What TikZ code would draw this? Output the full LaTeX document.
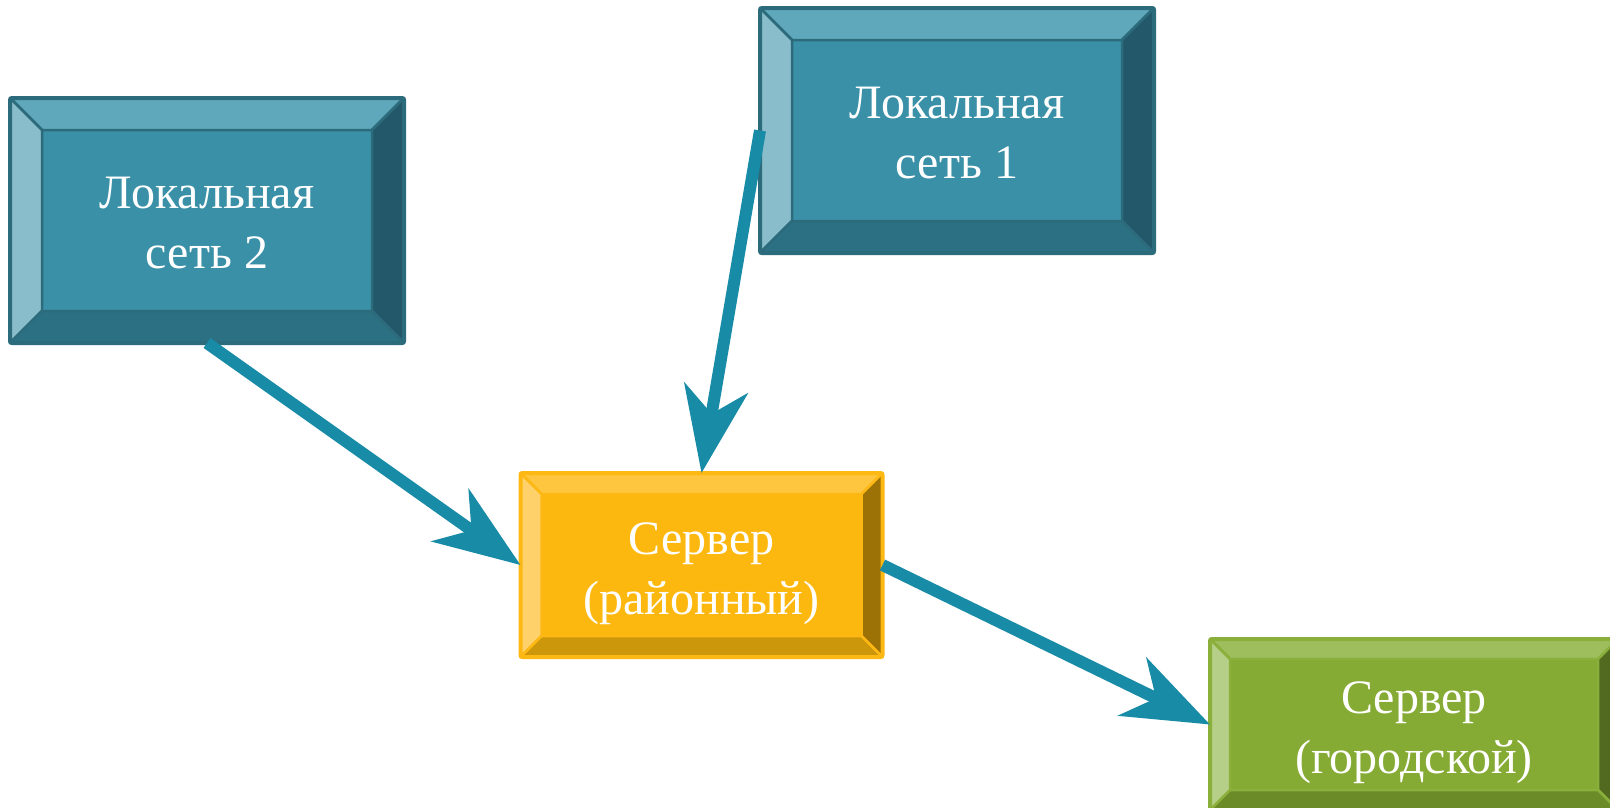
\documentclass[tikz,border=0pt]{standalone}
\usepackage{fontspec}
\setmainfont{Liberation Serif}
\usetikzlibrary{arrows.meta}
\definecolor{tface}{HTML}{3A90A7}
\definecolor{ttop}{HTML}{5FA8BB}
\definecolor{tleft}{HTML}{8ABDCB}
\definecolor{tright}{HTML}{22586A}
\definecolor{tbot}{HTML}{2C7183}
\definecolor{tedge}{HTML}{2C6B7B}
\definecolor{yface}{HTML}{FDB80F}
\definecolor{ytop}{HTML}{FEC63E}
\definecolor{yleft}{HTML}{FED16B}
\definecolor{yright}{HTML}{9C7206}
\definecolor{ybot}{HTML}{CC970A}
\definecolor{yedge}{HTML}{FDB813}
\definecolor{gface}{HTML}{86AB34}
\definecolor{gtop}{HTML}{9EBD5D}
\definecolor{gleft}{HTML}{B6CF88}
\definecolor{gright}{HTML}{526A1F}
\definecolor{gbot}{HTML}{6B8A28}
\definecolor{gedge}{HTML}{8BAF3B}
\definecolor{arrowc}{HTML}{188BA6}
\newcommand\bevelfacets[7]{%
  \path[draw=#7, line width=2.5pt, line join=round, fill=#3] (#1.north west) -- (#1.north east) -- ([shift={(-#2,#2)}]#1.north east) -- ([shift={(#2,#2)}]#1.north west) -- cycle;
  \path[draw=#7, line width=2.5pt, line join=round, fill=#4] (#1.north west) -- ([shift={(#2,#2)}]#1.north west) -- ([shift={(#2,-#2)}]#1.south west) -- (#1.south west) -- cycle;
  \path[draw=#7, line width=2.5pt, line join=round, fill=#5] (#1.north east) -- ([shift={(-#2,#2)}]#1.north east) -- ([shift={(-#2,-#2)}]#1.south east) -- (#1.south east) -- cycle;
  \path[draw=#7, line width=2.5pt, line join=round, fill=#6] (#1.south west) -- ([shift={(#2,-#2)}]#1.south west) -- ([shift={(-#2,-#2)}]#1.south east) -- (#1.south east) -- cycle;
  \draw[#7, line width=4pt, rounded corners=2pt] (#1.north west) rectangle (#1.south east);
}
\tikzset{
  bbox/.style={rectangle, inner sep=0pt, outer sep=0pt, text=white, align=center,
    font=\fontsize{48}{60}\selectfont},
  link/.style={draw=arrowc, line width=12pt,
    -{Stealth[length=86pt,width=64pt,inset=26pt]}},
}
\begin{document}
\begin{tikzpicture}[x=1pt,y=-1pt]
\clip (0,0) rectangle (1610,807);
\fill[white] (0,0) rectangle (1610,807);
\node[bbox, fill=tface, minimum width=394pt, minimum height=245pt] (l2) at (207,220.5) {};
\bevelfacets{l2}{32}{ttop}{tleft}{tright}{tbot}{tedge}
\node[bbox] at ([yshift=-3pt]l2) {Локальная\\сеть 2};
\node[bbox, fill=tface, minimum width=394pt, minimum height=245pt] (l1) at (957,130.5) {};
\bevelfacets{l1}{32}{ttop}{tleft}{tright}{tbot}{tedge}
\node[bbox] at ([yshift=-3pt]l1) {Локальная\\сеть 1};
\node[bbox, fill=yface, minimum width=362pt, minimum height=184pt] (sr) at (701.5,565) {};
\bevelfacets{sr}{21}{ytop}{yleft}{yright}{ybot}{yedge}
\node[bbox] at ([yshift=-9pt]sr) {Сервер\\(районный)};
\node[bbox, fill=gface, minimum width=408pt, minimum height=171pt] (sg) at (1414,724.5) {};
\bevelfacets{sg}{20}{gtop}{gleft}{gright}{gbot}{gedge}
\node[bbox] at ([yshift=-8pt]sg) {Сервер\\(городской)};
\draw[link] (l2.south) -- (sr.west);
\draw[link] (l1.west) -- (sr.north);
\draw[link] (sr.east) -- (sg.west);
\end{tikzpicture}
\end{document}
